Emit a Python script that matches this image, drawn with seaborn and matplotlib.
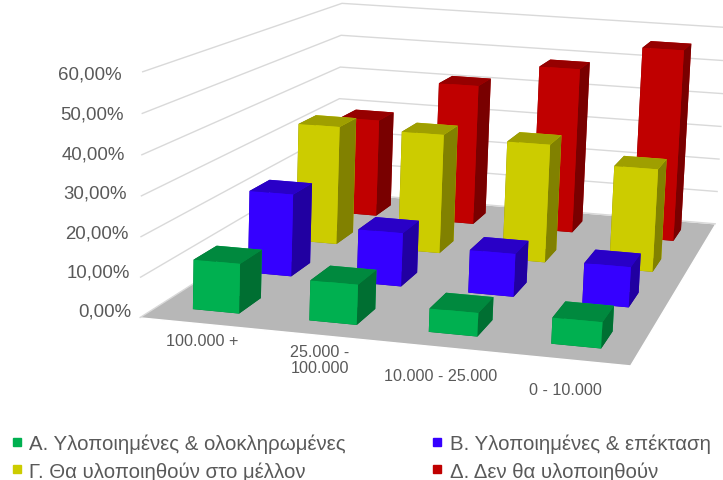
import numpy as np
import pandas as pd
import matplotlib
matplotlib.use("Agg")
import matplotlib.pyplot as plt
from matplotlib.lines import Line2D
import seaborn as sns

categories = ["100.000 +", "25.000 -\n100.000", "10.000 - 25.000", "0 - 10.000"]
series_names = ["Α. Υλοποιημένες & ολοκληρωμένες", "Β. Υλοποιημένες & επέκταση",
                "Γ. Θα υλοποιηθούν στο μέλλον", "Δ. Δεν θα υλοποιηθούν"]
green = [12.5, 10, 5.8, 6.4]
blue = [22, 14.2, 11.3, 10.5]
yellow = [33.5, 33.5, 33, 28.5]
red = [29, 41.5, 48.5, 56]
z_ticks = [0, 10, 20, 30, 40, 50, 60]
z_labels = ["0,00%", "10,00%", "20,00%", "30,00%", "40,00%", "50,00%", "60,00%"]
colors = ["#00B050", "#3500FF", "#CCCC00", "#C00000"]

sns.set_theme(style="white", rc={"grid.color": "#D9D9D9", "grid.linewidth": 1.0})
plt.rcParams["font.family"] = ["Liberation Sans", "DejaVu Sans"]
palette = sns.color_palette(colors)

df = pd.DataFrame({"cat": range(4), "green": green, "blue": blue, "yellow": yellow, "red": red})
df = df.melt(id_vars="cat", var_name="series", value_name="value")
df["row"] = df["series"].map({"green": 0, "blue": 1, "yellow": 2, "red": 3})

fig = plt.figure(figsize=(7.23, 4.81), dpi=100)
ax = fig.add_axes([(453.74 - 400) / 723, (481 - 169.14 - 400) / 481, 800 / 723, 800 / 481], projection="3d")
ax.set_xlim(0, 4)
ax.set_ylim(0, 4)
ax.set_zlim(0, 60)
ax.view_init(10.29, -77.13, -2.12)
ax.set_proj_type("persp", focal_length=0.499)
aspect = np.array([0.5385, 0.7497, 0.2694])
ax.set_box_aspect(aspect, zoom=np.linalg.norm(aspect))
ax.computed_zorder = False

ax.xaxis.set_pane_color((1, 1, 1, 0))
ax.yaxis.set_pane_color((1, 1, 1, 0))
ax.zaxis.set_pane_color("#B7B7B7")
for a in [ax.xaxis, ax.yaxis, ax.zaxis]:
    a.line.set_color((1, 1, 1, 0))
    a.pane.set_edgecolor((1, 1, 1, 0))
    a.label.set_visible(False)
    a.offsetText.set_visible(False)
ax.set_xticks([])
ax.set_yticks([])
ax.set_zticks(z_ticks)
ax.set_zticklabels([])
ax.tick_params(axis="z", length=0, color=(1, 1, 1, 0))
ax.zaxis._axinfo["tick"]["inward_factor"] = 0
ax.zaxis._axinfo["tick"]["outward_factor"] = 0
for t in ax.zaxis.get_major_ticks():
    t.label1.set_visible(False)
    t.label2.set_visible(False)

w = 0.40
d = 0.40
order = df.sort_values(["row", "cat"], ascending=[False, True])
for k, r in enumerate(order.itertuples()):
    c = np.array(palette[r.row])
    # faces: bottom, top, front, back, left, right
    faces = [c * 0.63, c * 0.78, c, c, c * 0.63, c * 0.63]
    ax.bar3d(r.cat + 0.5 - w / 2, r.row + 0.5 - d / 2, 0, w, d, r.value,
             color=faces, shade=False, zorder=10 + k, linewidth=0)

# labels lean a bit to the left going up, like the reference
for z, lab in zip(z_ticks, z_labels):
    ax.text(-0.07 - z * 0.0017, 0, z + 1.5 - z * 0.037, lab, ha="right", va="center",
            fontsize=13.4, color="#595959")

for i, lab in enumerate(categories):
    ax.text(i + 0.76 - 0.05 * i, -0.45, 1.3 - 1.0 * min(i, 2) - 1.4 * (i == 3) + 0.6 * (i == 3) - 0.7 * (i == 1) - 0.5 * (i == 2), lab,
            ha="center", va="center", fontsize=11.6, color="#595959", linespacing=1.1)

handles = [Line2D([], [], marker="s", linestyle="none", color=palette[i], markersize=6.3) for i in range(4)]
fig.legend(handles[:1] + handles[2:3], [series_names[0], series_names[2]], loc="upper left",
           bbox_to_anchor=(-0.008, 0.118), frameon=False, fontsize=14.7, labelcolor="#595959",
           handletextpad=0.0, labelspacing=0.4, borderpad=0, handlelength=1.2)
fig.legend(handles[1:2] + handles[3:4], [series_names[1], series_names[3]], loc="upper left",
           bbox_to_anchor=(0.574, 0.118), frameon=False, fontsize=14.7, labelcolor="#595959",
           handletextpad=0.0, labelspacing=0.4, borderpad=0, handlelength=1.2)

fig.savefig("out.png", dpi=100)
